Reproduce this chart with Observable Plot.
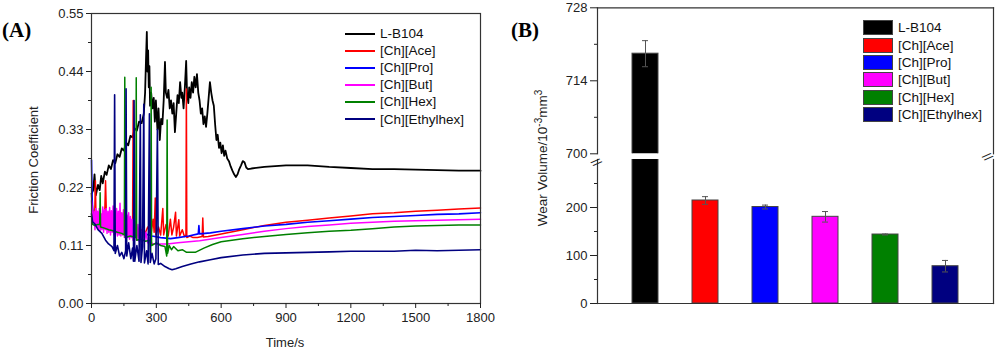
<!DOCTYPE html>
<html><head><meta charset="utf-8">
<script src="https://cdn.jsdelivr.net/npm/d3@7"></script>
<script src="https://cdn.jsdelivr.net/npm/@observablehq/plot@0.6"></script>
<style>
body{margin:0;background:#fff;font-family:"Liberation Sans",Arial,sans-serif;}
#wrap{position:relative;width:1000px;height:350px;overflow:hidden;background:#fff;}
.panel{position:absolute;top:0;width:500px;height:350px;}
.sub{position:absolute;left:0;width:500px;}
.lbl{position:absolute;font-size:13px;color:#222;white-space:nowrap;line-height:15px;}
.rot{transform:translate(-50%,-50%) rotate(-90deg);}
.ctr{transform:translate(-50%,-50%);}
.tag{position:absolute;font-family:"Liberation Serif","Times New Roman",serif;font-weight:bold;font-size:21px;color:#000;line-height:24px;}
.leg{position:absolute;font-size:13.5px;color:#111;}
.row{display:flex;align-items:center;}
.ln{width:30px;height:2px;margin-right:5px;}
.sw{width:30px;height:15px;box-sizing:border-box;border:1px solid #444;margin-right:5px;}
sup{font-size:10px;line-height:0;vertical-align:5px;}
</style></head>
<body><div id="wrap">
<div class="panel" id="pa" style="left:0"></div>
<div class="panel" id="pb" style="left:500px">
  <div class="sub" id="pbTop" style="top:0;height:156px"></div>
  <div class="sub" id="pbBot" style="top:150px;height:200px"></div>
</div>
<div class="tag" style="left:2px;top:18px">(A)</div>
<div class="tag" style="left:511px;top:18px">(B)</div>
<div class="lbl rot" style="left:33px;top:160px">Friction Coefficient</div>
<div class="lbl ctr" style="left:285px;top:342px">Time/s</div>
<div class="lbl rot" style="left:542px;top:158px;font-size:13.5px">Wear Volume/10<sup>-3</sup>mm<sup>3</sup></div>
<div class="leg" id="legA" style="left:345px;top:25px"></div>
<div class="leg" id="legB" style="left:863px;top:19px"></div>
</div>
<script>
// ---------- data ----------
const seriesNames = ["L-B104","[Ch][Ace]","[Ch][Pro]","[Ch][But]","[Ch][Hex]","[Ch][Ethylhex]"];
const seriesColors = ["#000000","#ff0000","#0000ff","#ff00ff","#008000","#000080"];

const xTicks = [0,300,600,900,1200,1500,1800];
const xMinor = [150,450,750,1050,1350,1650];
const yTicks = [0,0.11,0.22,0.33,0.44,0.55];
const yMinor = [0.055,0.165,0.275,0.385,0.495];

// friction coefficient vs time [s, value]
const frLB104 = [[0,0.208],[8,0.215],[14,0.245],[20,0.205],[30,0.225],[38,0.215],[45,0.242],[52,0.228],[62,0.25],[70,0.244],[80,0.262],[90,0.255],[100,0.272],[110,0.266],[120,0.283],[130,0.278],[140,0.294],[150,0.29],[160,0.305],[170,0.30],[180,0.318],[190,0.315],[200,0.332],[210,0.328],[220,0.345],[232,0.342],[242,0.36],[248,0.40],[252,0.46],[256,0.515],[259,0.44],[262,0.48],[265,0.41],[268,0.45],[271,0.375],[276,0.40],[282,0.37],[288,0.39],[293,0.345],[298,0.385],[305,0.33],[310,0.37],[316,0.31],[322,0.35],[328,0.34],[334,0.385],[340,0.458],[344,0.40],[350,0.39],[356,0.405],[362,0.37],[368,0.385],[374,0.36],[380,0.38],[386,0.325],[392,0.36],[398,0.395],[404,0.38],[410,0.42],[416,0.39],[420,0.40],[426,0.37],[432,0.41],[438,0.46],[442,0.40],[448,0.38],[452,0.41],[458,0.39],[464,0.42],[470,0.40],[476,0.43],[482,0.41],[488,0.435],[494,0.40],[500,0.385],[506,0.36],[512,0.37],[518,0.34],[524,0.355],[530,0.335],[536,0.36],[542,0.39],[548,0.42],[554,0.40],[560,0.385],[566,0.375],[572,0.34],[578,0.31],[584,0.32],[590,0.295],[596,0.305],[602,0.285],[608,0.30],[614,0.28],[620,0.29],[628,0.275],[636,0.27],[644,0.26],[652,0.252],[660,0.245],[668,0.24],[676,0.245],[684,0.255],[692,0.262],[700,0.27],[708,0.268],[716,0.258],[724,0.255],[740,0.256],[800,0.259],[900,0.262],[1000,0.262],[1100,0.259],[1200,0.257],[1300,0.255],[1400,0.255],[1500,0.254],[1600,0.253],[1700,0.252],[1800,0.252]];
const frAce = [[0,0.205],[5,0.18],[10,0.165],[15,0.17],[18,0.233],[21,0.16],[30,0.155],[40,0.15],[50,0.158],[60,0.148],[65,0.233],[70,0.15],[85,0.145],[100,0.142],[120,0.14],[140,0.138],[160,0.135],[180,0.133],[190,0.14],[193,0.385],[196,0.135],[210,0.132],[230,0.14],[245,0.13],[260,0.145],[275,0.13],[285,0.16],[290,0.135],[295,0.20],[298,0.13],[310,0.145],[320,0.13],[330,0.18],[334,0.13],[345,0.15],[355,0.128],[365,0.16],[372,0.13],[380,0.145],[389,0.173],[393,0.128],[404,0.159],[408,0.128],[420,0.14],[430,0.127],[437,0.13],[439,0.407],[441,0.125],[455,0.128],[470,0.125],[490,0.125],[512,0.127],[515,0.162],[518,0.126],[540,0.127],[600,0.132],[700,0.14],[800,0.148],[900,0.154],[1000,0.158],[1100,0.162],[1200,0.166],[1300,0.17],[1400,0.172],[1500,0.175],[1600,0.177],[1700,0.179],[1800,0.181]];
const frPro = [[0,0.272],[3,0.20],[6,0.17],[15,0.16],[40,0.155],[80,0.15],[120,0.148],[160,0.143],[200,0.138],[240,0.133],[280,0.128],[320,0.125],[366,0.123],[400,0.125],[450,0.128],[494,0.132],[497,0.148],[500,0.132],[550,0.134],[600,0.137],[700,0.142],[800,0.147],[900,0.15],[1000,0.154],[1100,0.157],[1200,0.16],[1300,0.163],[1400,0.165],[1500,0.167],[1600,0.169],[1700,0.17],[1800,0.172]];
const frBut = [[0,0.195],[4,0.17],[8,0.155],[12,0.175],[16,0.14],[20,0.18],[24,0.145],[28,0.175],[32,0.14],[36,0.18],[40,0.138],[44,0.17],[48,0.14],[52,0.183],[56,0.135],[60,0.178],[64,0.14],[68,0.18],[72,0.133],[76,0.175],[80,0.135],[84,0.182],[88,0.13],[92,0.176],[96,0.135],[100,0.185],[104,0.13],[108,0.176],[112,0.132],[116,0.18],[120,0.128],[124,0.175],[128,0.13],[132,0.19],[136,0.128],[140,0.172],[144,0.13],[148,0.178],[152,0.125],[156,0.17],[160,0.127],[164,0.168],[168,0.125],[172,0.172],[176,0.122],[180,0.165],[184,0.125],[188,0.16],[192,0.12],[196,0.162],[200,0.12],[205,0.155],[210,0.12],[215,0.15],[220,0.118],[226,0.148],[232,0.117],[238,0.14],[245,0.117],[252,0.135],[260,0.115],[270,0.125],[280,0.114],[300,0.113],[350,0.113],[400,0.115],[450,0.117],[500,0.119],[600,0.125],[700,0.131],[800,0.137],[900,0.142],[1000,0.146],[1100,0.149],[1200,0.152],[1300,0.154],[1400,0.156],[1500,0.157],[1600,0.158],[1700,0.159],[1800,0.16]];
const frHex = [[0,0.165],[5,0.15],[15,0.148],[30,0.15],[38,0.15],[40,0.21],[42,0.145],[60,0.143],[80,0.14],[100,0.138],[120,0.135],[140,0.133],[152,0.13],[154,0.429],[156,0.125],[180,0.128],[205,0.125],[207,0.428],[209,0.12],[230,0.122],[250,0.118],[270,0.12],[274,0.09],[276,0.41],[278,0.11],[300,0.115],[320,0.11],[340,0.108],[348,0.09],[350,0.348],[352,0.095],[360,0.11],[370,0.102],[380,0.108],[400,0.1],[420,0.102],[440,0.097],[480,0.097],[520,0.105],[560,0.112],[600,0.117],[700,0.123],[800,0.127],[900,0.131],[1000,0.134],[1100,0.137],[1200,0.139],[1300,0.142],[1400,0.145],[1500,0.147],[1600,0.148],[1700,0.149],[1800,0.149]];
const frEthylhex = [[0,0.17],[5,0.155],[17,0.15],[30,0.14],[48,0.133],[65,0.12],[79,0.113],[95,0.108],[104,0.10],[107,0.396],[110,0.095],[120,0.11],[130,0.09],[140,0.097],[150,0.085],[158,0.1],[160,0.407],[163,0.09],[172,0.115],[182,0.085],[190,0.105],[194,0.08],[197,0.385],[200,0.08],[210,0.11],[220,0.08],[226,0.358],[229,0.078],[236,0.108],[242,0.378],[245,0.077],[255,0.1],[262,0.075],[268,0.36],[272,0.078],[280,0.095],[290,0.075],[298,0.085],[305,0.33],[309,0.074],[320,0.076],[340,0.07],[360,0.066],[373,0.064],[390,0.066],[420,0.07],[460,0.075],[500,0.079],[550,0.083],[600,0.087],[700,0.092],[800,0.095],[900,0.096],[1000,0.097],[1100,0.098],[1200,0.099],[1300,0.099],[1400,0.099],[1500,0.101],[1600,0.1],[1700,0.101],[1800,0.102]];

// wear volume (10^-3 mm^3)
const wearValues = [719.2, 214.6, 201, 180.6, 143.7, 77.7];
const wearErrors = [2.5, 8, 4, 11, 1, 12];
const wearLowerDomain = [0, 300];
const wearUpperDomain = [700, 728];
const wearLowerTicks = [0,100,200];
const wearLowerMinor = [50,150,250];
const wearUpperTicks = [700,714,728];
const wearUpperMinor = [707,721];

// ---------- panel A ----------
const frSeries = [frLB104, frAce, frPro, frBut, frHex, frEthylhex];
const lineWidths = [1.8, 1.5, 1.6, 1.5, 1.5, 1.6];
const axStyle = {fontSize:"13px", fontFamily:"'Liberation Sans', Arial, sans-serif", color:"#222", background:"transparent", overflow:"visible"};

const plotA = Plot.plot({
  width:500, height:350, marginLeft:91, marginRight:20, marginTop:13, marginBottom:47,
  style: axStyle,
  x:{domain:[0,1800]},
  y:{domain:[0,0.55]},
  marks:[
    ...frSeries.map((d,i)=>Plot.line(d,{x:p=>p[0], y:p=>p[1], stroke:seriesColors[i], strokeWidth:lineWidths[i]})),
    Plot.frame({stroke:"#333", strokeWidth:1.2}),
    Plot.axisX({ticks:xTicks, tickSize:5, tickPadding:4, tickFormat:d=>String(d), label:null}),
    Plot.axisX({ticks:xMinor, tickSize:3, tickFormat:()=>"", label:null}),
    Plot.axisY({ticks:yTicks, tickSize:5, tickPadding:3, tickFormat:d=>d.toFixed(2), label:null}),
    Plot.axisY({ticks:yMinor, tickSize:3, tickFormat:()=>"", label:null})
  ]
});
document.getElementById("pa").appendChild(plotA);

// ---------- panel B (broken y axis: two stacked plots) ----------
const wear = seriesNames.map((n,i)=>({name:n, v:wearValues[i], e:wearErrors[i], c:seriesColors[i]}));
const xB = {domain:seriesNames, paddingInner:0.57, paddingOuter:0.55, axis:null};
function wearMarks(ticks, minor, sides){
  return [
    Plot.barY(wear,{x:"name", y:"v", fill:"c", stroke:"#444", strokeWidth:1, clip:true}),
    Plot.ruleX(wear,{x:"name", y1:d=>d.v-d.e, y2:d=>d.v+d.e, stroke:"#555", strokeWidth:1, clip:true}),
    Plot.tickY(wear,{x:"name", y:d=>d.v+d.e, stroke:"#555", insetLeft:10, insetRight:10, clip:true}),
    Plot.tickY(wear,{x:"name", y:d=>d.v-d.e, stroke:"#555", insetLeft:10, insetRight:10, clip:true}),
    ...sides.map(s=>Plot.frame({anchor:s, stroke:"#333", strokeWidth:1.2})),
    Plot.axisY({ticks, tickSize:7, tickPadding:3, tickFormat:d=>String(d), label:null}),
    Plot.axisY({ticks:minor, tickSize:3, tickFormat:()=>"", label:null})
  ];
}
const plotBTop = Plot.plot({
  width:500, height:156, marginLeft:97, marginRight:7, marginTop:7.3, marginBottom:2.7,
  style: axStyle, x:xB, y:{domain:wearUpperDomain, axis:null},
  marks: wearMarks(wearUpperTicks, wearUpperMinor, ["top","left","right"])
});
const plotBBot = Plot.plot({
  width:500, height:200, marginLeft:97, marginRight:7, marginTop:9, marginBottom:47,
  style: axStyle, x:xB, y:{domain:wearLowerDomain, axis:null},
  marks: [
    ...wearMarks(wearLowerTicks, wearLowerMinor, ["bottom","left","right"]),
    Plot.text(["//"],{frameAnchor:"top-left", text:d=>d, dy:-3, rotate:50, fontSize:13, fill:"#222"}),
    Plot.text(["//"],{frameAnchor:"top-right", text:d=>d, dy:-3, rotate:50, fontSize:13, fill:"#222"})
  ]
});
document.getElementById("pbTop").appendChild(plotBTop);
document.getElementById("pbBot").appendChild(plotBBot);

// ---------- legends ----------
const legA = document.getElementById("legA");
const legB = document.getElementById("legB");
seriesNames.forEach((n,i)=>{
  const ra = document.createElement("div"); ra.className="row"; ra.style.height="17.1px";
  ra.innerHTML = `<span class="ln" style="background:${seriesColors[i]}"></span><span>${n}</span>`;
  legA.appendChild(ra);
  const rb = document.createElement("div"); rb.className="row"; rb.style.height="17.4px";
  rb.innerHTML = `<span class="sw" style="background:${seriesColors[i]}"></span><span>${n}</span>`;
  legB.appendChild(rb);
});
</script>
</body></html>
